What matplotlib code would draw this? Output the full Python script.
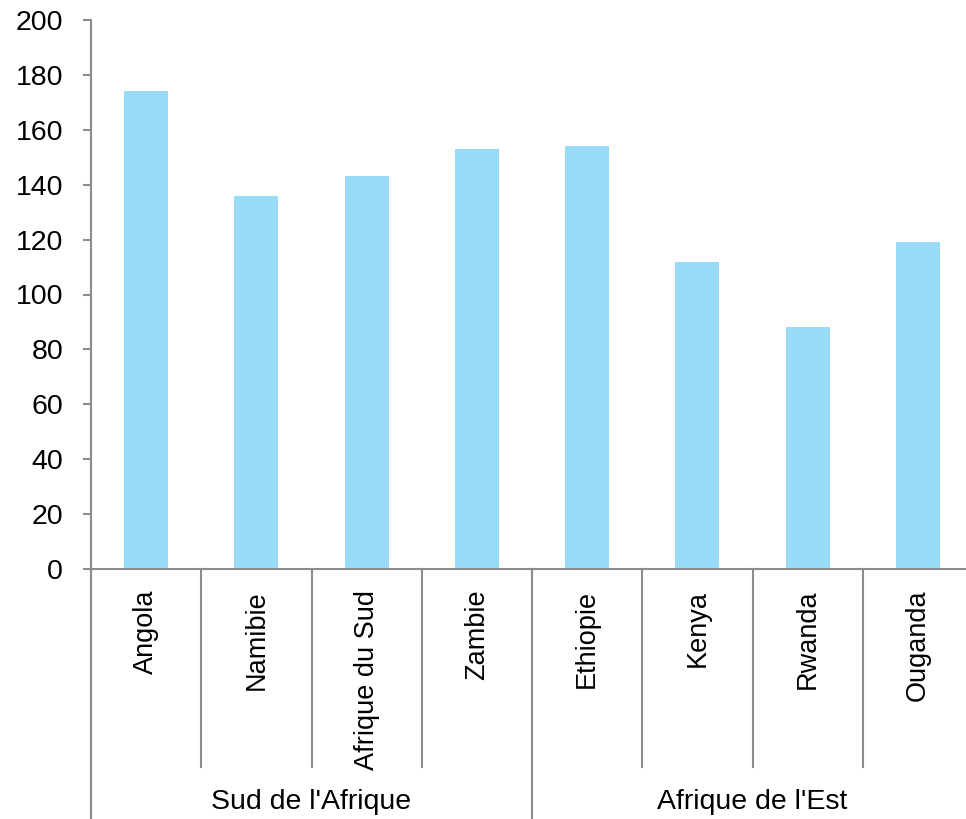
import matplotlib.pyplot as plt
from matplotlib.transforms import blended_transform_factory

plt.rcParams["font.family"] = ["Liberation Sans", "DejaVu Sans"]

countries = ["Angola", "Namibie", "Afrique du Sud", "Zambie",
             "Ethiopie", "Kenya", "Rwanda", "Ouganda"]
values = [174, 136, 143, 153, 154, 112, 88, 119]
regions = ["Sud de l'Afrique", "Afrique de l'Est"]
region_sizes = [4, 4]
y_ticks = [0, 20, 40, 60, 80, 100, 120, 140, 160, 180, 200]

BAR_COLOR = "#97DBF9"
AXIS_COLOR = "#8C8C8C"
FS = 19.5
FS_H = 20.5

fig = plt.figure(figsize=(9.66, 8.19), dpi=100)
ax = fig.add_axes([91 / 966, 250 / 819, 882 / 966, 549 / 819])

x = list(range(len(countries)))
ax.bar(x, values, width=0.4, color=BAR_COLOR, zorder=2)

ax.set_xlim(-0.5, len(countries) - 0.5)
ax.set_ylim(0, 200)
ax.set_yticks(y_ticks)
ax.set_yticklabels([str(v) for v in y_ticks], fontsize=FS_H)
ax.tick_params(axis="y", direction="out", length=6, width=1.5,
               color=AXIS_COLOR, pad=14)
ax.set_xticks([])

for side in ("top", "right"):
    ax.spines[side].set_visible(False)
for side in ("left", "bottom"):
    ax.spines[side].set_color(AXIS_COLOR)
    ax.spines[side].set_linewidth(1.5)

trans = blended_transform_factory(ax.transData, ax.transAxes)

# short dividers between countries
for i in range(len(countries) + 1):
    ax.plot([i - 0.5, i - 0.5], [0, -0.361], transform=trans,
            color=AXIS_COLOR, lw=1.5, clip_on=False)

for xi, name in zip(x, countries):
    ax.text(xi, -0.038, name, transform=trans, rotation=90,
            ha="center", va="top", fontsize=FS)

# region level: long dividers and group labels
start = 0
for region, size in zip(regions, region_sizes):
    left = start - 0.5
    ax.plot([left, left], [0, -0.5], transform=trans,
            color=AXIS_COLOR, lw=1.5, clip_on=False)
    ax.text(start + size / 2 - 0.5, -0.424, region, transform=trans,
            ha="center", va="center", fontsize=FS_H)
    start += size
ax.plot([start - 0.5, start - 0.5], [0, -0.5], transform=trans,
        color=AXIS_COLOR, lw=1.5, clip_on=False)

fig.savefig("out.png", dpi=100)
